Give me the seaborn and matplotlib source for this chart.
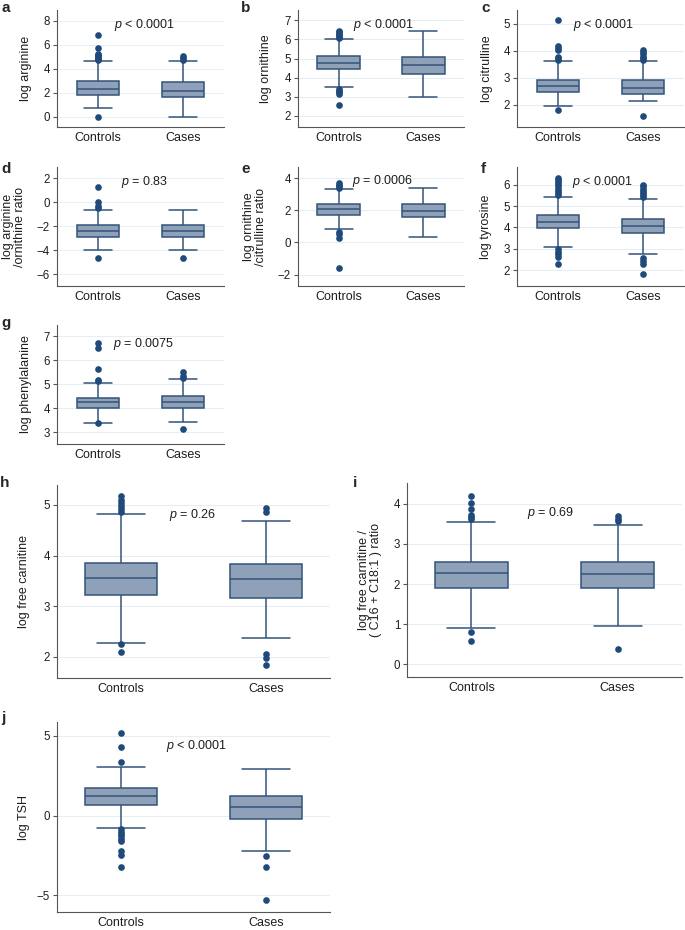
#!/usr/bin/env python3

import numpy as np
import pandas as pd
import seaborn as sns
import matplotlib.pyplot as plt


GROUPS = ["Controls", "Cases"]

# box values, one row per group (Controls, Cases):
# lower whisker, Q1, median, Q3, upper whisker
arginine_box = [[0.73, 1.81, 2.34, 2.96, 4.63], [0.0, 1.62, 2.12, 2.87, 4.63]]
ornithine_box = [[3.52, 4.47, 4.76, 5.11, 6.02], [3.0, 4.19, 4.66, 5.08, 6.42]]
citrulline_box = [[1.94, 2.48, 2.71, 2.93, 3.61], [2.13, 2.39, 2.63, 2.90, 3.61]]
arg_orn_box = [[-3.94, -2.86, -2.42, -1.92, -0.61], [-3.94, -2.86, -2.42, -1.92, -0.64]]
orn_cit_box = [[0.83, 1.73, 2.08, 2.375, 3.31], [0.33, 1.56, 1.96, 2.375, 3.42]]
tyrosine_box = [[3.06, 3.95, 4.27, 4.56, 5.44], [2.77, 3.72, 4.05, 4.375, 5.33]]
phenyl_box = [[3.40, 4.03, 4.24, 4.44, 5.06], [3.43, 4.03, 4.26, 4.53, 5.21]]
carnitine_box = [[2.28, 3.22, 3.55, 3.85, 4.82], [2.375, 3.17, 3.54, 3.83, 4.68]]
carn_ratio_box = [[0.91, 1.89, 2.27, 2.56, 3.54], [0.94, 1.90, 2.26, 2.54, 3.475]]
tsh_box = [[-0.79, 0.69, 1.25, 1.70, 3.04], [-2.25, -0.23, 0.54, 1.25, 2.93]]

# outliers, one list per group
arginine_out = [[0.0, 4.72, 4.8, 4.9, 5.0, 5.12, 5.22, 5.7, 6.85], [4.71, 4.91, 5.1]]
ornithine_out = [[2.56, 3.15, 3.22, 3.3, 3.4, 6.07, 6.15, 6.22, 6.3, 6.38, 6.46], []]
citrulline_out = [[1.79, 3.67, 3.72, 3.77, 4.02, 4.1, 4.18, 5.12],
                  [1.59, 3.67, 3.72, 3.77, 3.86, 3.96, 4.04]]
arg_orn_out = [[-4.61, -0.44, -0.3, 0.06, 1.31], [-4.61]]
orn_cit_out = [[-1.56, 0.25, 0.52, 0.67, 3.4, 3.5, 3.6, 3.7], []]
tyrosine_out = [[2.28, 2.63, 2.75, 2.86, 2.98, 5.52, 5.62, 5.72, 5.82, 5.92, 6.02, 6.12, 6.22, 6.3],
                [1.81, 2.28, 2.44, 2.55, 5.42, 5.52, 5.62, 5.72, 5.82, 5.92, 6.0]]
phenyl_out = [[3.37, 5.12, 5.19, 5.64, 6.53, 6.72], [3.14, 5.28, 5.33, 5.53]]
carnitine_out = [[2.09, 2.25, 4.86, 4.92, 4.98, 5.04, 5.1, 5.18], [1.84, 1.97, 2.05, 4.86, 4.93]]
carn_ratio_out = [[0.59, 0.81, 3.61, 3.675, 3.73, 3.875, 4.03, 4.19], [0.38, 3.57, 3.625, 3.69]]
tsh_out = [[-3.2, -2.45, -2.2, -1.6, -1.45, -1.3, -1.15, -1.0, -0.85, 3.37, 4.28, 5.18],
           [-5.32, -3.22, -2.54]]

LETTERS = ["a", "b", "c", "d", "e", "f", "g", "h", "i", "j"]
YLABELS = [
    "log arginine",
    "log ornithine",
    "log citrulline",
    "log arginine\n/ornithine ratio",
    "log ornithine\n/citrulline ratio",
    "log tyrosine",
    "log phenylalanine",
    "log free carnitine",
    "log free carnitine /\n( C16 + C18:1 ) ratio",
    "log TSH",
]
PVALUES = ["< 0.0001", "< 0.0001", "< 0.0001", "= 0.83", "= 0.0006",
           "< 0.0001", "= 0.0075", "= 0.26", "= 0.69", "< 0.0001"]
YTICKS = [
    [0, 2, 4, 6, 8],
    [2, 3, 4, 5, 6, 7],
    [2, 3, 4, 5],
    [-6, -4, -2, 0, 2],
    [-2, 0, 2, 4],
    [2, 3, 4, 5, 6],
    [3, 4, 5, 6, 7],
    [2, 3, 4, 5],
    [0, 1, 2, 3, 4],
    [-5, 0, 5],
]

BOXES = [arginine_box, ornithine_box, citrulline_box, arg_orn_box, orn_cit_box,
         tyrosine_box, phenyl_box, carnitine_box, carn_ratio_box, tsh_box]
OUTLIERS = [arginine_out, ornithine_out, citrulline_out, arg_orn_out, orn_cit_out,
            tyrosine_out, phenyl_out, carnitine_out, carn_ratio_out, tsh_out]

# layout in pixels: axes (left, top, right, bottom), letter (x, baseline)
W, H = 685, 930
AX_PX = [(57, 10, 224, 127), (298, 10, 464, 127), (517, 10, 684, 127),
         (57, 167, 224, 286), (298, 167, 464, 286), (517, 167, 684, 286),
         (57, 325, 224, 444),
         (57, 485, 330, 678), (407, 483, 682, 677),
         (57, 722, 330, 912)]
LETTER_PX = [(1, 12), (241, 12), (481, 12), (1, 173), (241, 173), (481, 173),
             (1, 327), (0, 487), (353, 487), (1, 722)]
YLIMS = [(-0.87, 8.9), (1.4, 7.55), (1.18, 5.5), (-6.97, 2.95), (-2.71, 4.7),
         (1.25, 6.83), (2.51, 7.47), (1.585, 5.39), (-0.32, 4.52), (-6.05, 5.87)]
PTEXT_POS = [(0.19, 7.64), (0.17, 6.77), (0.18, 4.94), (0.27, 1.72), (0.16, 3.83),
             (0.165, 6.14), (0.18, 6.68), (0.33, 4.80), (0.38, 3.775), (0.31, 4.39)]
YLABEL_OFF = [-25, -26, -24, -31, -31, -25, -25, -27, -25, -27]

BOX_FILL = "#8ea1b9"
EDGE = "#33547a"
DOT = "#1f4a7a"
GRID = "#e6edf3"
SPINE = "#555555"
TEXT = "#1e1e1e"

sns.set_theme(style="white")
plt.rcParams["font.family"] = ["Liberation Sans", "DejaVu Sans"]
plt.rcParams["mathtext.fontset"] = "custom"
plt.rcParams["mathtext.it"] = "Liberation Sans:italic"
plt.rcParams["mathtext.rm"] = "Liberation Sans"

if __name__ == "__main__":
    fig = plt.figure(figsize=(W / 100, H / 100), dpi=100)

    for k in range(len(LETTERS)):
        l, t, r, b = AX_PX[k]
        ax = fig.add_axes([l / W, 1 - b / H, (r - l) / W, (b - t) / H])
        big = k >= 7

        box = BOXES[k]
        df = pd.DataFrame({"group": np.repeat(GROUPS, 5), "value": box[0] + box[1]})
        sns.boxplot(
            data=df, x="group", y="value", order=GROUPS, whis=(0, 100), width=0.5,
            color=BOX_FILL, saturation=1, linecolor=EDGE, linewidth=1.1,
            showfliers=False, capwidths=0.33, ax=ax,
        )

        out = OUTLIERS[k]
        odf = pd.DataFrame({
            "group": ["Controls"] * len(out[0]) + ["Cases"] * len(out[1]),
            "value": out[0] + out[1],
        })
        sns.stripplot(
            data=odf, x="group", y="value", order=GROUPS, jitter=False,
            color=DOT, size=4.8, linewidth=0, ax=ax, zorder=5,
        )

        ax.set_xlim((-0.44, 1.44) if big else (-0.48, 1.48))
        ax.set_ylim(YLIMS[k])
        ax.set_yticks(YTICKS[k])
        ax.yaxis.grid(True, color=GRID, linewidth=0.8)
        ax.set_axisbelow(True)
        for side in ["top", "right"]:
            ax.spines[side].set_visible(False)
        for side in ["left", "bottom"]:
            ax.spines[side].set_color(SPINE)
            ax.spines[side].set_linewidth(0.8)
        ax.tick_params(axis="y", length=3, width=0.8, color=SPINE, labelsize=8.3,
                       pad=2, labelcolor=TEXT, left=True)
        ax.tick_params(axis="x", length=0, labelsize=9, pad=3.5, labelcolor=TEXT)
        ax.set_xlabel("")
        ax.set_ylabel(YLABELS[k], fontsize=9, linespacing=0.95, color=TEXT)
        ax.yaxis.set_label_coords(YLABEL_OFF[k] / (r - l), 0.5)

        px, py = PTEXT_POS[k]
        ax.text(px, py, "$p$ " + PVALUES[k], fontsize=9, ha="left", va="center",
                color=TEXT)

        lx, ly = LETTER_PX[k]
        fig.text(lx / W, 1 - ly / H, LETTERS[k], fontsize=11, fontweight="bold",
                 ha="left", va="baseline")

    plt.savefig("out.png", dpi=100)
